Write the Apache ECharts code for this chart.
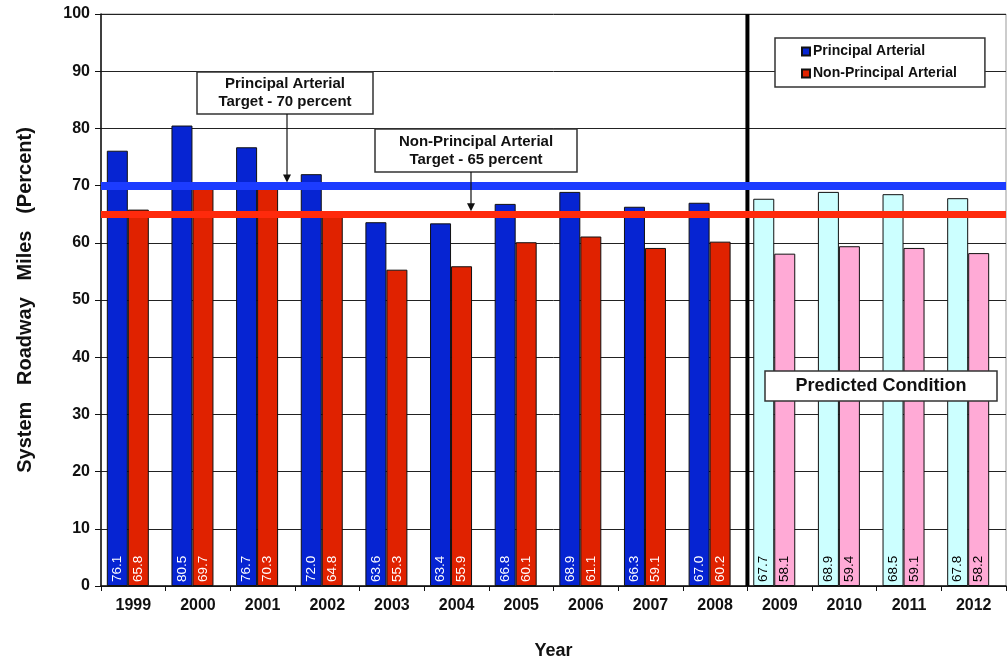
<!DOCTYPE html>
<html>
<head>
<meta charset="utf-8">
<script src="https://cdn.jsdelivr.net/npm/echarts@6/dist/echarts.min.js"></script>
<style>
  html, body { margin: 0; padding: 0; background: #fff; }
  #chart { width: 1008px; height: 664px; }
</style>
</head>
<body>
<div id="chart"></div>
<script>
const years = ['1999', '2000', '2001', '2002', '2003', '2004', '2005', '2006', '2007', '2008', '2009', '2010', '2011', '2012'];
const principal = [76.1, 80.5, 76.7, 72.0, 63.6, 63.4, 66.8, 68.9, 66.3, 67.0, 67.7, 68.9, 68.5, 67.8];
const nonPrincipal = [65.8, 69.7, 70.3, 64.8, 55.3, 55.9, 60.1, 61.1, 59.1, 60.2, 58.1, 59.4, 59.1, 58.2];
const predictedFrom = 10; // first predicted year index (2009)
const principalTarget = 70;
const nonPrincipalTarget = 65;

const FONT = 'Liberation Sans, Arial, sans-serif';

const chart = echarts.init(document.getElementById('chart'));

function barData(values, predColor) {
  return values.map((v, i) => {
    if (i < predictedFrom) return v;
    return { value: v, itemStyle: { color: predColor }, label: { color: '#000' } };
  });
}

const barLabel = {
  show: true,
  position: 'insideBottom',
  rotate: 90,
  align: 'left',
  verticalAlign: 'middle',
  distance: 4,
  color: '#fff',
  fontSize: 13.5,
  fontFamily: FONT,
  formatter: (p) => p.value.toFixed(1),
};

const option = {
  animation: false,
  textStyle: { fontFamily: FONT },
  grid: {
    left: 101, right: 2, top: 14, bottom: 78,
    outerBoundsMode: 'none',
    show: true, borderColor: '#999', borderWidth: 1,
  },
  legend: {
    data: ['Principal Arterial', 'Non-Principal Arterial'],
    orient: 'vertical',
    left: 775, top: 38,
    padding: [6, 28, 6, 26],
    icon: 'rect',
    itemWidth: 8, itemHeight: 8, itemGap: 7,
    backgroundColor: '#fff',
    borderColor: '#333', borderWidth: 1.5,
    textStyle: { fontSize: 14, lineHeight: 15, fontWeight: 'bold', color: '#111', padding: [0, 0, 0, -2] },
  },
  xAxis: {
    type: 'category',
    data: years,
    name: 'Year',
    nameLocation: 'middle',
    nameGap: 56,
    nameTextStyle: { fontSize: 18, fontWeight: 'bold', color: '#111' },
    axisLine: { lineStyle: { color: '#111', width: 1.5 } },
    axisTick: { show: true, interval: 0, length: 5, lineStyle: { color: '#111' } },
    axisLabel: { interval: 0, margin: 12, fontSize: 16, fontWeight: 'bold', color: '#111' },
  },
  yAxis: {
    type: 'value',
    min: 0, max: 100, interval: 10,
    name: 'System   Roadway   Miles   (Percent)',
    nameLocation: 'middle',
    nameGap: 66,
    nameTextStyle: { fontSize: 20, fontWeight: 'bold', color: '#111' },
    axisLine: { show: true, lineStyle: { color: '#111', width: 1.5 } },
    axisTick: { show: true, length: 6, lineStyle: { color: '#111' } },
    axisLabel: { margin: 11, fontSize: 16, fontWeight: 'bold', color: '#111' },
    splitLine: { show: true, lineStyle: { color: '#222', width: 1 } },
  },
  series: [
    {
      name: 'Principal Arterial',
      type: 'bar',
      barWidth: 21,
      barGap: '0%',
      data: barData(principal, '#ccffff'),
      itemStyle: { color: '#0624d2', borderColor: '#111', borderWidth: 1 },
      label: barLabel,
      markLine: {
        silent: true,
        symbol: 'none',
        label: { show: false },
        lineStyle: { color: '#1c3cff', width: 8, type: 'solid' },
        data: [{ yAxis: principalTarget }],
        z: 10,
      },
    },
    {
      name: 'Non-Principal Arterial',
      type: 'bar',
      barWidth: 21,
      barGap: '0%',
      data: barData(nonPrincipal, '#ffaad6'),
      itemStyle: { color: '#e02200', borderColor: '#111', borderWidth: 1 },
      label: barLabel,
      markLine: {
        silent: true,
        symbol: 'none',
        label: { show: false },
        lineStyle: { color: '#ff2a0c', width: 7, type: 'solid' },
        data: [{ yAxis: nonPrincipalTarget }],
        z: 10,
      },
    },
    {
      name: 'spacer',
      type: 'bar',
      barWidth: 11,
      barGap: '0%',
      silent: true,
      data: [],
    },
  ],
};

chart.setOption(option);

// annotation boxes, arrows point at the target lines
const yP = chart.convertToPixel({ yAxisIndex: 0 }, principalTarget);
const yN = chart.convertToPixel({ yAxisIndex: 0 }, nonPrincipalTarget);
const yTop = chart.convertToPixel({ yAxisIndex: 0 }, 100);
const yBottom = chart.convertToPixel({ yAxisIndex: 0 }, 0);
// divider between actual and predicted years
const xDiv = (chart.convertToPixel({ xAxisIndex: 0 }, years[predictedFrom - 1]) +
              chart.convertToPixel({ xAxisIndex: 0 }, years[predictedFrom])) / 2;

function box(x, y, w, h, text, fontSize, lineHeight) {
  return [
    { type: 'rect', shape: { x, y, width: w, height: h }, style: { fill: '#fff', stroke: '#333', lineWidth: 1.5 }, z: 20 },
    {
      type: 'text', x: x + w / 2, y: y + h / 2, z: 21,
      style: { text, align: 'center', verticalAlign: 'middle', fontSize, fontWeight: 'bold', fontFamily: FONT, fill: '#111', lineHeight },
    },
  ];
}

function arrow(x, y1, y2) {
  return [
    { type: 'line', shape: { x1: x, y1, x2: x, y2: y2 - 7 }, style: { stroke: '#111', lineWidth: 1.2 }, z: 20 },
    { type: 'polygon', shape: { points: [[x - 4, y2 - 8], [x + 4, y2 - 8], [x, y2]] }, style: { fill: '#111' }, z: 20 },
  ];
}

chart.setOption({
  graphic: [
    { type: 'line', shape: { x1: xDiv, y1: yTop, x2: xDiv, y2: yBottom }, style: { stroke: '#000', lineWidth: 4 }, z: 5 },
    ...box(197, 72, 176, 42, 'Principal Arterial\nTarget - 70 percent', 15, 18),
    ...arrow(287, 114, yP - 3),
    ...box(375, 129, 202, 43, 'Non-Principal Arterial\nTarget - 65 percent', 15, 18),
    ...arrow(471, 172, yN - 3),
    ...box(765, 371, 232, 30, 'Predicted Condition', 18, 20),
  ],
});
</script>
</body>
</html>
